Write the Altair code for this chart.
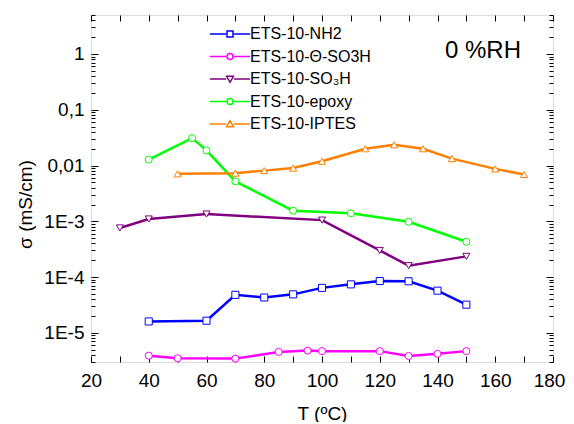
import altair as alt
import pandas as pd

# ---------------- data ----------------
series = ["ETS-10-NH2", "ETS-10-Θ-SO3H", "ETS-10-SO₃H", "ETS-10-epoxy", "ETS-10-IPTES"]
colors = ["#0000FF", "#FF00FF", "#800080", "#00FF00", "#FF8000"]
shapes = ["square", "circle", "triangle-down", "circle", "triangle-up"]

nh2_T = [40, 60, 70, 80, 90, 100, 110, 120, 130, 140, 150]
nh2_s = [1.6e-5, 1.65e-5, 4.8e-5, 4.3e-5, 4.9e-5, 6.4e-5, 7.4e-5, 8.5e-5, 8.4e-5, 5.7e-5, 3.2e-5]

theta_T = [40, 50, 70, 85, 95, 100, 120, 130, 140, 150]
theta_s = [3.9e-6, 3.5e-6, 3.45e-6, 4.55e-6, 4.8e-6, 4.7e-6, 4.7e-6, 3.85e-6, 4.2e-6, 4.7e-6]

so3h_T = [30, 40, 60, 100, 120, 130, 150]
so3h_s = [7.6e-4, 1.1e-3, 1.35e-3, 1.05e-3, 3.0e-4, 1.6e-4, 2.35e-4]

epoxy_T = [40, 55, 60, 70, 90, 110, 130, 150]
epoxy_s = [0.0128, 0.031, 0.0187, 5.2e-3, 1.55e-3, 1.39e-3, 9.8e-4, 4.3e-4]

iptes_T = [50, 70, 80, 90, 100, 115, 125, 135, 145, 160, 170]
iptes_s = [7.1e-3, 7.3e-3, 8.1e-3, 9.0e-3, 0.0119, 0.020, 0.0235, 0.020, 0.0133, 8.7e-3, 6.9e-3]

rh_label = ["0 %RH"]

x_ticks = list(range(20, 181, 10))
x_label_ticks = list(range(20, 181, 20))
y_major = [1e-5, 1e-4, 1e-3, 1e-2, 1e-1, 1.0]
y_minor = [float(f"{m}e{e}") for e in range(-6, 1) for m in range(2, 10)
           if 3e-6 <= float(f"{m}e{e}") <= 5]

rows = []
for name, T, s in zip(series, [nh2_T, theta_T, so3h_T, epoxy_T, iptes_T],
                      [nh2_s, theta_s, so3h_s, epoxy_s, iptes_s]):
    for t, v in zip(T, s):
        rows.append({"series": name, "T": t, "sigma": v})
df = pd.DataFrame(rows)

FONT = "Liberation Sans"
EXP = "round(log(datum.value)/LN10)"
ylab = (f"{EXP} === 0 ? '1' : {EXP} === -1 ? '0,1' : "
        f"{EXP} === -2 ? '0,01' : '1E' + {EXP}")

x_scale = alt.Scale(domain=[20, 180], nice=False, zero=False)
y_scale = alt.Scale(type="log", domain=[3e-6, 5], nice=False)

common_axis = dict(domain=False, grid=False, tickColor="black", tickWidth=1,
                   labelColor="black", titleColor="black", labelFont=FONT,
                   titleFont=FONT, labelOverlap=False, labelFlush=False)


def tick_axis(orient, values, size):
    # label-less axis pushed inside the frame so that its ticks point inward
    return alt.Axis(orient=orient, values=values, labels=False, title=None,
                    tickSize=size, offset=-size, **common_axis)


x_bottom = alt.X("T:Q", scale=x_scale, axis=alt.Axis(
    orient="bottom", values=x_label_ticks, title="T (ºC)", ticks=False, tickSize=0,
    labelPadding=9, labelFontSize=19, titleFontSize=19,
    labelOffset={"condition": {"test": "datum.value === 180", "value": -4}, "value": 0},
    titleFontWeight="normal", titleY=57, titleBaseline="alphabetic",
    **common_axis))
y_left = alt.Y("sigma:Q", scale=y_scale, axis=alt.Axis(
    orient="left", values=y_major, title="σ (mS/cm)", labelExpr=ylab,
    ticks=False, tickSize=0, labelPadding=7, labelFontSize=19, titleFontSize=19,
    titleFontWeight="normal", titleX=-66, titleY=189, titleAngle=270,
    titleBaseline="middle", titleAlign="center", **common_axis))

x_bottom_t = alt.X("T:Q", scale=x_scale, axis=tick_axis("bottom", x_ticks, 6))
x_top_t = alt.X("T:Q", scale=x_scale, axis=tick_axis("top", x_ticks, 6))
y_left_major = alt.Y("sigma:Q", scale=y_scale, axis=tick_axis("left", y_major, 7))
y_left_minor = alt.Y("sigma:Q", scale=y_scale, axis=tick_axis("left", y_minor, 4))
y_right_major = alt.Y("sigma:Q", scale=y_scale, axis=tick_axis("right", y_major, 7))
y_right_minor = alt.Y("sigma:Q", scale=y_scale, axis=tick_axis("right", y_minor, 4))
x_none = alt.X("T:Q", scale=x_scale, axis=None)

# legend symbols: line segment + marker (unit-square paths)
L = "M-6.7,0H-1.3M1.3,0H6.7"
legend_paths = [
    L + "M-1,-1H1V1H-1Z",
    L + "M1,0A1,1,0,1,1,-1,0A1,1,0,1,1,1,0Z",
    L + "M0,1.1L1.15,-0.9H-1.15Z",
    L + "M1,0A1,1,0,1,1,-1,0A1,1,0,1,1,1,0Z",
    L + "M0,-1.1L1.15,0.9H-1.15Z",
]

legend = alt.Legend(
    orient="none", legendX=131, legendY=11, title=None, labelFontSize=16,
    labelFont=FONT, labelColor="black", symbolSize=36, symbolStrokeWidth=1.5,
    labelOffset=12, rowPadding=6.5, padding=0)


def cscale():
    return alt.Scale(domain=series, range=colors)


base = alt.Chart(df)

lines = base.mark_line(strokeWidth=2.5).encode(
    x=x_bottom, y=y_left,
    color=alt.Color("series:N", scale=cscale(), legend=None),
)

points = base.mark_point(filled=False, fill="white", fillOpacity=1, size=50,
                         strokeWidth=1, opacity=1).encode(
    x=x_bottom_t, y=y_left_major,
    color=alt.Color("series:N", scale=cscale(), legend=None),
    shape=alt.Shape("series:N", scale=alt.Scale(domain=series, range=shapes), legend=None),
)

empty = base.transform_filter("false")
ghost1 = empty.mark_point().encode(x=x_top_t, y=y_left_minor)
ghost2 = empty.mark_point().encode(x=x_none, y=y_right_major)
ghost3 = empty.mark_point().encode(x=x_none, y=y_right_minor)

legend_layer = empty.mark_point(
    filled=False, fill="white", fillOpacity=1, strokeWidth=1.5, opacity=1).encode(
    color=alt.Color("series:N", scale=cscale(), legend=legend),
    shape=alt.Shape("series:N", scale=alt.Scale(domain=series, range=legend_paths),
                    legend=legend),
)

text = alt.Chart(pd.DataFrame({"label": rh_label})).mark_text(
    align="left", baseline="alphabetic", fontSize=24, font=FONT, color="black"
).encode(x=alt.value(354), y=alt.value(43), text="label:N")

chart = alt.layer(lines, points, ghost1, ghost2, ghost3, legend_layer, text).resolve_axis(
    x="independent", y="independent"
).resolve_scale(color="independent", shape="independent").properties(
    width=462, height=347,
    padding={"left": 83, "top": 7, "right": 13, "bottom": 60},
    autosize=alt.AutoSizeParams(type="none"),
).configure_view(stroke="black", strokeWidth=1.5).configure(font=FONT)

chart.save("out.html", embed_options={"renderer": "svg", "actions": False})
